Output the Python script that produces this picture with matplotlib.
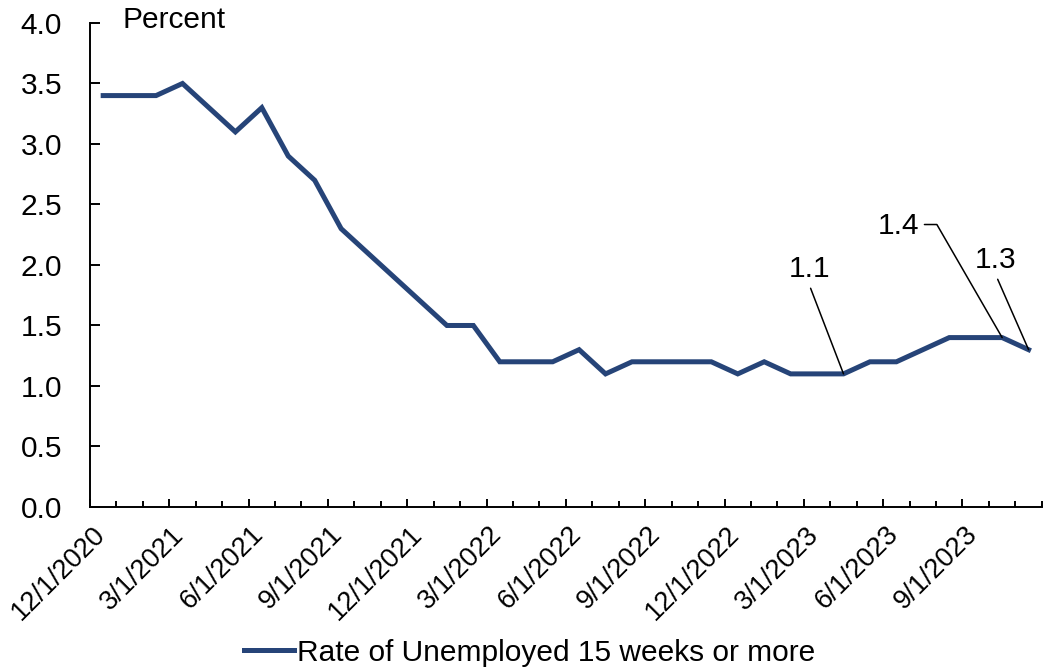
import matplotlib.pyplot as plt
from matplotlib.transforms import ScaledTranslation
import numpy as np

# Monthly rate, 12/2020 through 11/2023
months = ['12/2020', '1/2021', '2/2021', '3/2021', '4/2021', '5/2021', '6/2021',
          '7/2021', '8/2021', '9/2021', '10/2021', '11/2021', '12/2021',
          '1/2022', '2/2022', '3/2022', '4/2022', '5/2022', '6/2022', '7/2022',
          '8/2022', '9/2022', '10/2022', '11/2022', '12/2022',
          '1/2023', '2/2023', '3/2023', '4/2023', '5/2023', '6/2023', '7/2023',
          '8/2023', '9/2023', '10/2023', '11/2023']
rate = [3.4, 3.4, 3.4, 3.5, 3.3, 3.1, 3.3, 2.9, 2.7, 2.3, 2.1, 1.9, 1.7,
        1.5, 1.5, 1.2, 1.2, 1.2, 1.3, 1.1, 1.2, 1.2, 1.2, 1.2, 1.1,
        1.2, 1.1, 1.1, 1.1, 1.2, 1.2, 1.3, 1.4, 1.4, 1.4, 1.3]
tick_labels = ['12/1/2020', '3/1/2021', '6/1/2021', '9/1/2021', '12/1/2021',
               '3/1/2022', '6/1/2022', '9/1/2022', '12/1/2022', '3/1/2023',
               '6/1/2023', '9/1/2023']
series_name = 'Rate of Unemployed 15 weeks or more'

# Labelled points: (month index, offset of label in points)
callouts = [(28, (-24.8, 75.6)), (34, (-74.9, 80.4)), (35, (-23.5, 64.6))]

plt.rcParams['font.family'] = ['Liberation Sans', 'DejaVu Sans']
fs = 21.5
color = '#264478'

fig = plt.figure(figsize=(10.46, 6.7), dpi=100)
ax = fig.add_axes([0.086, 0.2433, 0.91, 0.7224])

x = np.arange(len(rate))
ax.plot(x, rate, color=color, lw=3.6, solid_joinstyle='miter', label=series_name)

ax.set_xlim(-0.5, len(rate) - 0.5)
ax.set_ylim(0, 4)
ax.set_yticks(np.arange(0, 4.01, 0.5))
ax.set_yticklabels([f'{v:.1f}' for v in np.arange(0, 4.01, 0.5)], fontsize=fs)

ax.set_xticks(np.arange(-0.5, len(rate) - 0.5, 3))
ax.set_xticklabels(tick_labels, fontsize=19.5, rotation=45, ha='right',
                   va='center', rotation_mode='anchor')
ax.set_xticks(np.arange(-0.5, len(rate), 1), minor=True)

ax.tick_params(axis='y', direction='in', length=7, width=1.4, pad=20)
ax.tick_params(axis='x', which='major', direction='in', length=6, width=1.4, pad=17)
ax.tick_params(axis='x', which='minor', direction='in', length=4, width=1.4)

# nudge the slanted date labels to the right of their ticks
shift = ScaledTranslation(8 / 72, 0, fig.dpi_scale_trans)
for lab in ax.get_xticklabels():
    lab.set_transform(lab.get_transform() + shift)

for side in ['top', 'right']:
    ax.spines[side].set_visible(False)
for side in ['left', 'bottom']:
    ax.spines[side].set_linewidth(1.4)

ax.text(0.034, 1.006, 'Percent', transform=ax.transAxes, fontsize=fs,
        va='center', ha='left')

for i, off in callouts:
    if i == 34:
        conn = 'angle,angleA=0,angleB=120,rad=0'
        rel = (1.05, 0.55)
    else:
        conn = 'arc3'
        rel = (0.5, -0.05)
    ax.annotate(f'{rate[i]:.1f}', xy=(i, rate[i]), xytext=off,
                textcoords='offset points', fontsize=fs, ha='center', va='center',
                arrowprops=dict(arrowstyle='-', color='black', lw=1.1,
                                shrinkA=2, shrinkB=0, relpos=rel,
                                connectionstyle=conn))

fig.legend(loc='lower center', bbox_to_anchor=(0.506, -0.035), frameon=False,
           fontsize=fs, handlelength=1.7, handletextpad=0.08)

plt.savefig('out.png', dpi=100)
